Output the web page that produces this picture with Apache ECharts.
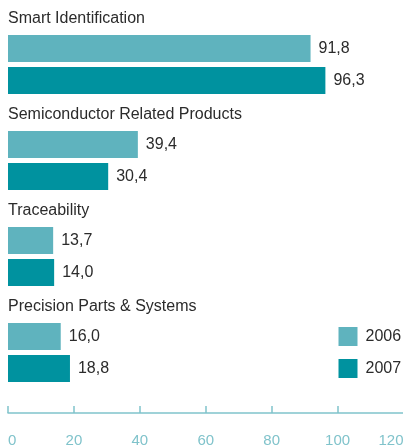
<!DOCTYPE html>
<html><head><meta charset="utf-8">
<script src="https://cdn.jsdelivr.net/npm/echarts@6/dist/echarts.min.js"></script>
<style>html,body{margin:0;padding:0;background:#fff}#c{width:403px;height:447px}</style>
</head><body><div id="c"></div>
<script>
var categories = ['Smart Identification', 'Semiconductor Related Products', 'Traceability', 'Precision Parts & Systems'];
var values2006 = [91.8, 39.4, 13.7, 16.0];
var values2007 = [96.3, 30.4, 14.0, 18.8];
var seriesNames = ['2006', '2007'];
var axisTicks = [0, 20, 40, 60, 80, 100, 120];

var c1 = '#5fb3be', c2 = '#00929f', axisCol = '#80c3cb', txt = '#2b2b2b';
var fmt = function (p) { return p.value.toFixed(1).replace('.', ','); };
var chart = echarts.init(document.getElementById('c'));
chart.setOption({
  animation: false,
  textStyle: { fontFamily: 'Liberation Sans, Arial, sans-serif' },
  grid: { left: 8, right: -0.5, top: 16.5, height: 384, containLabel: false, outerBoundsMode: 'none' },
  legend: {
    orient: 'vertical', left: 333.5, top: 322, itemWidth: 19, itemHeight: 19, itemGap: 13,
    icon: 'rect', textStyle: { fontSize: 16, color: txt, padding: [0, 0, 0, 3] },
    itemStyle: { borderWidth: 0 }
  },
  xAxis: {
    type: 'value', min: axisTicks[0], max: axisTicks[axisTicks.length - 1], interval: 20,
    offset: 12.5,
    axisLine: { show: true, lineStyle: { color: axisCol, width: 1.5 } },
    axisTick: { show: true, inside: true, length: 7, lineStyle: { color: axisCol, width: 1.5 } },
    splitLine: { show: false },
    axisLabel: { color: axisCol, fontSize: 15, margin: 20, alignMinLabel: 'left', alignMaxLabel: 'right' }
  },
  yAxis: {
    type: 'category', data: categories, inverse: true,
    axisLine: { show: false }, axisTick: { show: false },
    axisLabel: { inside: true, interval: 0, hideOverlap: false, margin: 0, align: 'left', verticalAlign: 'bottom', lineHeight: 92, fontSize: 16, color: txt },
    z: 10
  },
  series: [
    { name: seriesNames[0], type: 'bar', data: values2006, barWidth: 27, barGap: '18.5%',
      itemStyle: { color: c1 },
      label: { show: true, position: 'right', distance: 8, fontSize: 16, color: txt, formatter: fmt } },
    { name: seriesNames[1], type: 'bar', data: values2007, barWidth: 27, barGap: '18.5%',
      itemStyle: { color: c2 },
      label: { show: true, position: 'right', distance: 8, fontSize: 16, color: txt, formatter: fmt } }
  ]
});
</script></body></html>
